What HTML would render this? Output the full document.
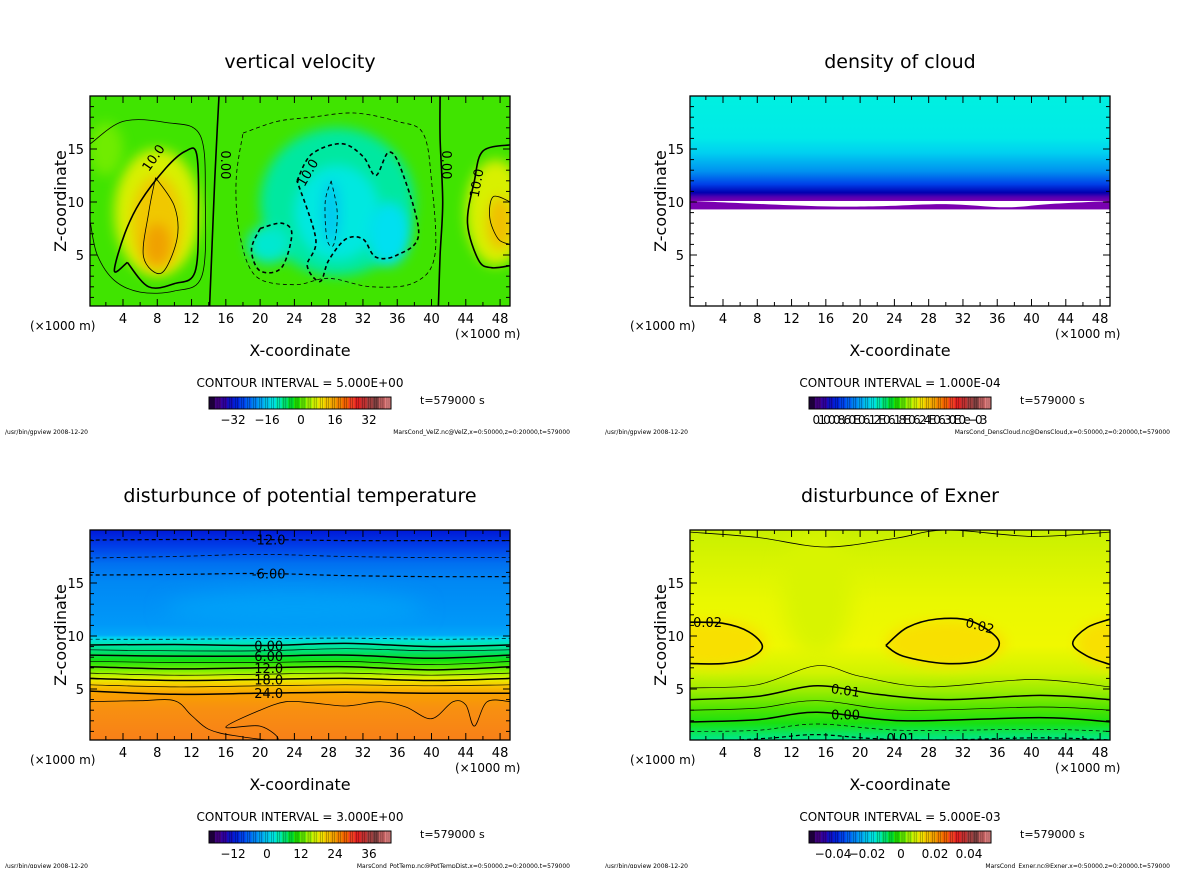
<!DOCTYPE html>
<html><head><meta charset="utf-8"><style>
html,body{margin:0;padding:0;background:#fff}
svg text{font-family:"DejaVu Sans","Liberation Sans",sans-serif;fill:#000}
</style></head><body>
<svg id="root" width="1200" height="868" viewBox="0 0 1200 868" xmlns="http://www.w3.org/2000/svg">
<defs>
<filter id="blur6" x="-50%" y="-50%" width="200%" height="200%"><feGaussianBlur stdDeviation="6"/></filter>
<filter id="blur10" x="-50%" y="-50%" width="200%" height="200%"><feGaussianBlur stdDeviation="10"/></filter>
<clipPath id="c0"><rect x="90" y="96" width="420" height="210"/></clipPath>
<clipPath id="c1"><rect x="690" y="96" width="420" height="210"/></clipPath>
<clipPath id="c2"><rect x="90" y="530" width="420" height="210"/></clipPath>
<clipPath id="c3"><rect x="690" y="530" width="420" height="210"/></clipPath>
<linearGradient id="gCloud" x1="0" y1="0" x2="0" y2="1">
<stop offset="0" stop-color="#00f0e0"/><stop offset="0.2" stop-color="#00eae8"/><stop offset="0.27" stop-color="#00d0f0"/><stop offset="0.36" stop-color="#0090f0"/><stop offset="0.42" stop-color="#0040e8"/><stop offset="0.46" stop-color="#0000b0"/><stop offset="0.48" stop-color="#5000b0"/><stop offset="0.5" stop-color="#7a00b0"/><stop offset="0.5" stop-color="#ffffff"/><stop offset="1" stop-color="#ffffff"/>
</linearGradient>
<linearGradient id="gTheta" x1="0" y1="0" x2="0" y2="1">
<stop offset="0" stop-color="#0018d8"/><stop offset="0.08" stop-color="#0040e8"/><stop offset="0.16" stop-color="#0070f0"/><stop offset="0.25" stop-color="#0088f4"/><stop offset="0.45" stop-color="#0098f8"/><stop offset="0.5" stop-color="#00a8f8"/><stop offset="0.515" stop-color="#00d8f0"/><stop offset="0.54" stop-color="#00e8b8"/><stop offset="0.58" stop-color="#00e070"/><stop offset="0.62" stop-color="#10e010"/><stop offset="0.67" stop-color="#80f000"/><stop offset="0.71" stop-color="#e8f000"/><stop offset="0.74" stop-color="#f8c800"/><stop offset="0.78" stop-color="#f8a000"/><stop offset="0.85" stop-color="#f89010"/><stop offset="1" stop-color="#f88018"/>
</linearGradient>
<linearGradient id="gExner" x1="0" y1="0" x2="0" y2="1">
<stop offset="0" stop-color="#c8f000"/><stop offset="0.15" stop-color="#d8f400"/><stop offset="0.35" stop-color="#eaf800"/><stop offset="0.55" stop-color="#f0f800"/><stop offset="0.68" stop-color="#d0f400"/><stop offset="0.77" stop-color="#98ec00"/><stop offset="0.85" stop-color="#50e400"/><stop offset="0.92" stop-color="#18e010"/><stop offset="1" stop-color="#00e890"/>
</linearGradient>
</defs>
</svg>
<script>
// ---------- data arrays ----------
const xTickLabels=[4,8,12,16,20,24,28,32,36,40,44,48];
const zTickLabels=[5,10,15];
const titles=["vertical velocity","density of cloud","disturbunce of potential temperature","disturbunce of Exner"];
const intervals=["5.000E+00","1.000E-04","3.000E+00","5.000E-03"];
const cbarLabels0=["-32","-16","0","16","32"];
const cbarLabels2=["-12","0","12","24","36"];
const cbarLabels3=["-0.04","-0.02","0","0.02","0.04"];
const footers=["MarsCond_VelZ.nc@VelZ,x=0:50000,z=0:20000,t=579000","MarsCond_DensCloud.nc@DensCloud,x=0:50000,z=0:20000,t=579000","MarsCond_PotTemp.nc@PotTempDist,x=0:50000,z=0:20000,t=579000","MarsCond_Exner.nc@Exner,x=0:50000,z=0:20000,t=579000"];
// contour lines [km, z]
const w_zeroL=[[15.2,20],[15,17],[14.7,12],[14.4,6],[14.1,0.2]];
const w_zeroR=[[41,20],[41,16],[41.3,10],[41,5],[40.8,0.2]];
const w_p5L=[[0.2,15.5],[4,17.6],[9,17.5],[13,16.3],[13.6,10],[13.2,3],[10,1.6],[6,1.5],[3,2.6],[1,5],[0.2,8]];
const w_p10L=[[4.5,4.3],[7,2],[10,2.3],[12.4,3.4],[12.8,9],[12.6,14.5],[11.3,14.8],[9,13.2],[6,10],[4.2,7],[3,3.5],[4.5,4.3]];
const w_p15L=[[7.8,12.3],[10,9.6],[10.3,6.5],[8.5,3.3],[6.4,4.8],[7,9],[7.8,12.3]];
const w_n5=[[18,16.5],[22,17.6],[26,18],[31,18.4],[36,17.6],[39,16.5],[40,12],[40.4,5],[38,2.4],[33,2],[28,2.8],[24,2.2],[19.5,3],[17.6,7],[17.2,12],[18,16.5]];
const w_n10a=[[24.3,12],[26,14.5],[29.5,15.5],[32,14.3],[33.5,12.5],[35,14.7],[36.5,13],[38.5,7],[36,5],[33.5,4.8],[32,6.5],[30,6.5],[28,4.5],[27,2.5],[25.5,4],[26.5,6.5],[24.3,12]];
const w_n10b=[[20,7.5],[22.5,8],[23.7,7],[22.5,3.8],[20,3.5],[19,5.5],[20,7.5]];
const w_n15=[[28.3,12],[29,9],[28.6,6],[27.8,6.5],[27.6,10],[28.3,12]];
const w_p10R=[[49.2,15.4],[46,14.8],[45,12],[44.2,8],[45.5,4.5],[47,3.8],[49.2,4]];
const w_p15R=[[49.2,10],[47.2,10.5],[46.8,8.5],[47.8,6.5],[49.2,6]];
const t_lines=[
 {z:[19.05,19.1,19.1,19.0,19.0,19.0],dash:true,w:1.2,lab:"-12.0",lx:21},
 {z:[17.35,17.5,17.7,17.5,17.4,17.4],dash:true,w:0.8},
 {z:[15.75,15.8,15.9,15.7,15.6,15.6],dash:true,w:1.2,lab:"-6.00",lx:21},
 {z:[9.7,9.7,9.75,9.8,9.7,9.75],dash:true,w:0.7},
 {z:[9.15,9.2,9.1,9.3,9.0,9.15],w:1.5,lab:"0.00",lx:21},
 {z:[8.7,8.6,8.6,8.8,8.6,8.7],w:0.7},
 {z:[8.2,8.1,8.1,8.2,7.9,8.2],w:1.5,lab:"6.00",lx:21},
 {z:[7.6,7.5,7.5,7.6,7.3,7.6],w:0.7},
 {z:[7.1,6.9,7.0,7.1,6.8,7.1],w:1.5,lab:"12.0",lx:21},
 {z:[6.5,6.3,6.4,6.5,6.3,6.5],w:0.7},
 {z:[6.0,5.8,5.9,6.0,5.8,6.0],w:1.5,lab:"18.0",lx:21},
 {z:[5.4,5.2,5.3,5.4,5.3,5.4],w:0.7},
 {z:[4.8,4.5,4.6,4.7,4.6,4.6],w:1.5,lab:"24.0",lx:21}
];
const t_lineX=[0,10,20,30,40,49.2];
const t_warm=[[0.2,3.8],[6,3.9],[10,3.9],[12,2.5],[14,1.2],[17,0.6],[22,0.2],[20,1.5],[16,1.4],[20,3],[23,3.8],[26,3.7],[30,3.4],[34,3.8],[37,3.3],[40,2.2],[42.5,3.8],[44,3.5],[45,1.5],[46.5,3.8],[49.2,3.8]];
const e_top=[[0.2,19.8],[8,19.3],[16,18.4],[24,19.2],[30,20],[40,19.4],[49.2,19.8]];
const e_loopL=[[0.2,11.3],[4,11.2],[7,10.4],[8.6,9],[7,7.9],[4,7.4],[0.2,7.4]];
const e_loopM=[[23,9.1],[25.5,10.8],[29,11.6],[33,11.4],[36.2,9.5],[34.5,7.8],[30,7.4],[25,8.1],[23,9.1]];
const e_loopR=[[49.2,11.6],[46.5,10.8],[44.8,9.3],[46.5,8.1],[49.2,7.3]];
const e_lines=[
 {p:[[0.2,5.1],[8,5.4],[15,7.2],[20,6.2],[28,5.2],[40,5.9],[49.2,5.2]],w:0.7},
 {p:[[0.2,4.0],[8,4.3],[15,5.3],[22,4.5],[30,4.0],[41,4.4],[49.2,4.0]],w:1.5,lab:"0.01",lx:18},
 {p:[[0.2,3.0],[8,3.2],[15,3.9],[25,3.0],[41,3.3],[49.2,3.0]],w:0.7},
 {p:[[0.2,1.9],[8,2.1],[15,2.8],[25,2.0],[41,2.3],[49.2,1.9]],w:1.5,lab:"0.00",lx:18},
 {p:[[0.2,1.0],[8,1.1],[15,1.7],[25,1.1],[41,1.2],[49.2,1.0]],w:0.7,dash:true},
 {p:[[6,0.2],[10,0.4],[15,0.7],[22,0.3],[30,0.2],[41,0.4],[49.2,0.2]],w:1.2,dash:true,lab:"-0.01",lx:24}
];
const cbarColors=["#200040","#400080","#3000a0","#1010c0","#0020d8","#0040e8","#0060f0","#0080f0","#00a0f0","#00c0e8","#00e0e0","#00e8b0","#00e070","#00e030","#20e000","#60e800","#a0f000","#d0f000","#f0e000","#f0c000","#f0a000","#f08000","#f06000","#f04020","#e02020","#c03030","#a04040","#804040","#c06060","#e08080"];

// ---------- helpers ----------
const NS="http://www.w3.org/2000/svg";
const root=document.getElementById('root');
const PX=[90,690], PY=[96,530];
function X(p,km){return PX[p%2]+(km-0.15)*8.57;}
function Z(p,z){return PY[p<2?0:1]+(20-z)*10.6;}
function el(tag,attrs,parent){const e=document.createElementNS(NS,tag);for(const k in attrs)e.setAttribute(k,attrs[k]);(parent||root).appendChild(e);return e;}
function txt(s,x,y,size,anchor,parent,extra){const t=el('text',Object.assign({x:x,y:y,'font-size':size,'text-anchor':anchor||'start'},extra||{}),parent);t.textContent=s;return t;}
function smooth(p,pts,closed){
  const P=pts.map(q=>[X(p,q[0]),Z(p,q[1])]);
  let d="M"+P[0][0].toFixed(1)+","+P[0][1].toFixed(1);
  for(let i=0;i<P.length-1;i++){
    const p0=P[Math.max(i-1,0)],p1=P[i],p2=P[i+1],p3=P[Math.min(i+2,P.length-1)];
    const c1=[p1[0]+(p2[0]-p0[0])/6,p1[1]+(p2[1]-p0[1])/6],c2=[p2[0]-(p3[0]-p1[0])/6,p2[1]-(p3[1]-p1[1])/6];
    d+="C"+c1[0].toFixed(1)+","+c1[1].toFixed(1)+" "+c2[0].toFixed(1)+","+c2[1].toFixed(1)+" "+p2[0].toFixed(1)+","+p2[1].toFixed(1);
  }
  return d;
}
function line(p,g,pts,w,dash,name){
  const e=el('path',{d:smooth(p,pts),fill:'none',stroke:'#000','stroke-width':w,'stroke-dasharray':dash?'4,3':'none'},g);
  
  
  return e;
}
function label(p,g,s,km,z,rot){
  const x=X(p,km),y=Z(p,z);
  el('rect',{x:x-16,y:y-7,width:32,height:13,fill:'none'},g);
  const t=txt(s,x,y+5,13,'middle',g,rot?{transform:`rotate(${rot} ${x} ${y})`}:{});
  
  
}

function panel(p){
  const g=el('g',{});
  
  
  const x0=PX[p%2], y0=PY[p<2?0:1];
  const cx=x0+210;
  const tt=txt(titles[p],cx,y0-28,19,'middle',g);
  
  
  const plot=el('g',{'clip-path':`url(#c${p})`},g);
  
  
  return {g,plot,x0,y0};
}
function frame(p,P){
  const {g,x0,y0}=P;
  const f=el('rect',{x:x0,y:y0,width:420,height:210,fill:'none',stroke:'#000','stroke-width':1.3},g);
  
  
  for(let km=2;km<=48;km+=2){
    const x=X(p,km),len=km%4===0?7:4;
    el('line',{x1:x,x2:x,y1:y0+210,y2:y0+210-len,stroke:'#000','stroke-width':1},g);
    el('line',{x1:x,x2:x,y1:y0,y2:y0+len,stroke:'#000','stroke-width':1},g);
  }
  for(let z=1;z<=19;z++){
    const y=Z(p,z),len=z%5===0?7:4;
    el('line',{x1:x0,x2:x0+len,y1:y,y2:y,stroke:'#000','stroke-width':1},g);
    el('line',{x1:x0+420,x2:x0+420-len,y1:y,y2:y,stroke:'#000','stroke-width':1},g);
  }
  xTickLabels.forEach(v=>{const t=txt(String(v),X(p,v),y0+227,13,'middle',g);});
  zTickLabels.forEach(v=>{const t=txt(String(v),x0-6,Z(p,v)+5,13,'end',g);});
  const u1=txt("(×1000 m)",x0-60,y0+234,12,'start',g);
  const u2=txt("(×1000 m)",x0+365,y0+242,12,'start',g);
  const xt=txt("X-coordinate",x0+210,y0+260,16,'middle',g);
  const zt=txt("Z-coordinate",0,0,16,'middle',g,{transform:`translate(${x0-24},${y0+105}) rotate(-90)`});
  // colorbar area
  const ci=txt("CONTOUR INTERVAL = "+intervals[p],x0+210,y0+291,12,'middle',g);
  const cb=el('g',{},g);
  const bx=x0+119,by=y0+301,bw=182,bh=12,n=cbarColors.length;
  cbarColors.forEach((c,i)=>{
    const r=el('rect',{x:bx+i*bw/n,y:by,width:bw/n+0.3,height:bh,fill:c},cb);
    
    for(let k=1;k<3;k++)el('line',{x1:bx+(i+k/3)*bw/n,x2:bx+(i+k/3)*bw/n,y1:by,y2:by+bh,stroke:'#000','stroke-width':0.5,opacity:0.5},cb);
  });
  el('rect',{x:bx,y:by,width:bw,height:bh,fill:'none',stroke:'#000','stroke-width':1},cb);
  const labs=[cbarLabels0,null,cbarLabels2,cbarLabels3][p];
  if(labs){labs.forEach((s,i)=>{const t=txt(s.replace('-','−'),bx+24+i*34,by+27,12,'middle',cb);});}
  else{const t=txt("0.10008.60E06.12E06.18E06.24E06.30E0e−03",bx+91,by+27,12,'middle',cb,{textLength:175});}
  const tl=txt("t=579000 s",x0+330,y0+308,11,'start',g,{fill:'#444'});
  const f1=txt("/usr/bin/gpview  2008-12-20",x0-85,y0+338,6,'start',g);
  const f2=txt(footers[p],x0+480,y0+338,6,'end',g);
}

// ---- Panel 1: vertical velocity
let P=panel(0);
el('rect',{x:90,y:96,width:420,height:210,fill:'#40e400'},P.plot);
const blobs=[[8,9,5,6,'#d8f000'],[8,8,3,4.5,'#f0c800'],[8,6,1.5,2,'#f0a000'],[47.5,9,3.5,5,'#d8f000'],[48,8,1.5,2.5,'#f0c000'],[29,10,9,7,'#00e8a0'],[29,9,5,4.5,'#00e8e0'],[28.3,9,1,3,'#00c8f0'],[35,7,2.5,3,'#00e0f0'],[21,6,2.5,1.8,'#00e8d0'],[2,15,2,2.5,'#70ec00']];
blobs.forEach(b=>{const e=el('ellipse',{cx:X(0,b[0]),cy:Z(0,b[1]),rx:b[2]*8.57,ry:b[3]*10.6,fill:b[4],filter:'url(#blur6)'},P.plot);});
line(0,P.plot,w_zeroL,1.6,false,'contour-zero-left');
line(0,P.plot,w_zeroR,1.6,false,'contour-zero-right');
line(0,P.plot,w_p5L,0.8,false,'contour-5-left');
line(0,P.plot,w_p10L,1.6,false,'contour-10-left');
line(0,P.plot,w_p15L,0.8,false,'contour-15-left');
line(0,P.plot,w_n5,0.8,true,'contour-neg5');
line(0,P.plot,w_n10a,1.6,true,'contour-neg10');
line(0,P.plot,w_n10b,1.6,true,'contour-neg10-b');
line(0,P.plot,w_n15,0.8,true,'contour-neg15');
line(0,P.plot,w_p10R,1.6,false,'contour-10-right');
line(0,P.plot,w_p15R,0.8,false,'contour-15-right');
label(0,P.plot,"10.0",7.5,14.2,-55);
label(0,P.plot,"0.00",16,13.5,90);
label(0,P.plot,"10.0",25.5,12.8,-60);
label(0,P.plot,"0.00",41.8,13.5,90);
label(0,P.plot,"10.0",45.2,11.8,-80);
frame(0,P);

// ---- Panel 2: density of cloud
P=panel(1);
el('rect',{x:690,y:96,width:420,height:210,fill:'url(#gCloud)'},P.plot);
// wavy bottom edge of cloud
const cloudEdge=[[0.2,10.1],[6,9.9],[15,9.6],[22,9.6],[30,9.8],[37,9.5],[42,9.8],[49.2,10.1]];
const ce=el('path',{d:smooth(1,cloudEdge)+`L${X(1,49.2)},${Z(1,9)}L${X(1,0.2)},${Z(1,9)}Z`,fill:'#7a00b0'},P.plot);

el('rect',{x:690,y:Z(1,9.3),width:420,height:120,fill:'#fff'},P.plot);
frame(1,P);

// ---- Panel 3: potential temperature
P=panel(2);
el('rect',{x:90,y:530,width:420,height:210,fill:'url(#gTheta)'},P.plot);
el('ellipse',{cx:X(2,24),cy:Z(2,12.5),rx:130,ry:18,fill:'#00a0f8',filter:'url(#blur10)'},P.plot);
t_lines.forEach((L,i)=>{const pts=t_lineX.map((x,j)=>[x,L.z[j]]);line(2,P.plot,pts,L.w,L.dash,'theta-contour-'+i);if(L.lab)label(2,P.plot,L.lab,L.lx,L.z[2],0);});
line(2,P.plot,t_warm,0.8,false,'theta-contour-30');
frame(2,P);

// ---- Panel 4: Exner
P=panel(3);
el('rect',{x:690,y:530,width:420,height:210,fill:'url(#gExner)'},P.plot);
[[3,9.3,6,2.2],[30,9.3,7,2.2],[49.2,9.3,4,2.2]].forEach(b=>{const e=el('ellipse',{cx:X(3,b[0]),cy:Z(3,b[1]),rx:b[2]*8.57,ry:b[3]*10.6,fill:'#f8e000',filter:'url(#blur6)'},P.plot);});
[[15,14,4,6]].forEach(b=>{const e=el('ellipse',{cx:X(3,b[0]),cy:Z(3,b[1]),rx:b[2]*8.57,ry:b[3]*10.6,fill:'#d8f400',filter:'url(#blur10)'},P.plot);});
line(3,P.plot,e_top,0.8,false,'exner-top');
line(3,P.plot,e_loopL,1.6,false,'exner-002-left');
line(3,P.plot,e_loopM,1.6,false,'exner-002-mid');
line(3,P.plot,e_loopR,1.6,false,'exner-002-right');
e_lines.forEach((L,i)=>{line(3,P.plot,L.p,L.w,L.dash,'exner-contour-'+i);});
label(3,P.plot,"0.02",2.2,11.3,0);
label(3,P.plot,"0.02",34,11,15);
label(3,P.plot,"0.01",18.3,4.9,8);
label(3,P.plot,"0.00",18.3,2.6,0);
label(3,P.plot,"-0.01",24.5,0.4,0);
frame(3,P);
</script>
</body></html>
